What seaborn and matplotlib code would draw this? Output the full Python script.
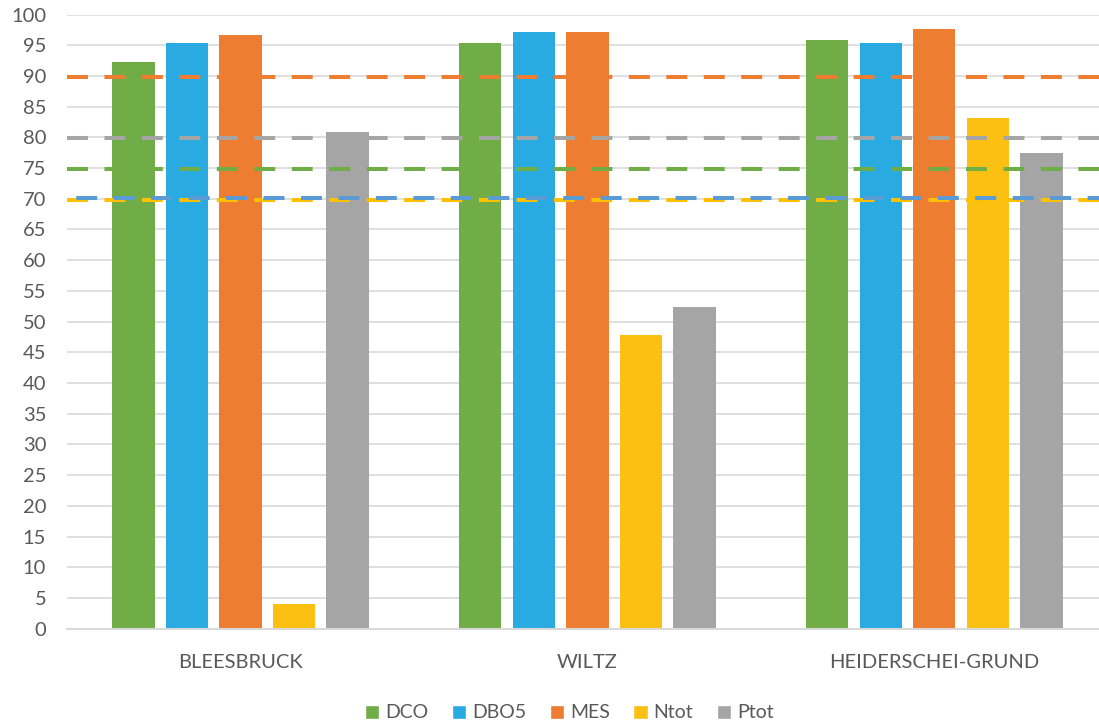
import matplotlib
matplotlib.use("Agg")
import matplotlib.pyplot as plt
import pandas as pd
import seaborn as sns
from matplotlib.patches import Patch

# Data
stations = ["BLEESBRUCK", "WILTZ", "HEIDERSCHEI-GRUND"]
params = ["DCO", "DBO5", "MES", "Ntot", "Ptot"]
dco = [92.2, 95.3, 95.9]
dbo5 = [95.3, 97.1, 95.3]
mes = [96.7, 97.1, 97.6]
ntot = [4.1, 47.9, 83.1]
ptot = [80.8, 52.4, 77.5]
# required removal rates (dashed lines)
thr_params = ["Ntot", "DBO5", "DCO", "Ptot", "MES"]
thr_values = [70, 70, 75, 80, 90]

bar_colors = ["#70AD47", "#29ABE2", "#ED7D31", "#FCC012", "#A5A5A5"]
line_colors = {"DCO": "#70AD47", "DBO5": "#5B9BD5", "MES": "#ED7D31",
               "Ntot": "#FFC000", "Ptot": "#A5A5A5"}

rows = []
for p, vals in zip(params, [dco, dbo5, mes, ntot, ptot]):
    for s, v in zip(stations, vals):
        rows.append({"station": s, "param": p, "value": v})
df = pd.DataFrame(rows)

sns.set_style("white")
plt.rcParams["font.family"] = ["Lato", "DejaVu Sans"]
txt = "#595959"

fig = plt.figure(figsize=(10.99, 7.26), dpi=100)
# plot area runs a little past the right edge, like the original
ax = fig.add_axes([0.061, 0.134, 0.947, 0.846])

sns.barplot(data=df, x="station", y="value", hue="param", order=stations,
            hue_order=params, palette=bar_colors, width=0.772, gap=0.21,
            linewidth=0, saturation=1, legend=False, err_kws={"linewidth": 0},
            ax=ax, zorder=2)

# threshold lines drawn over the bars
for p, v in zip(thr_params, thr_values):
    y = v + 0.2 if p == "DBO5" else v - 0.15
    off = 7 if p == "DBO5" else 0
    ax.axhline(y, color=line_colors[p], lw=2.9,
               linestyle=(off, (5.2, 4.1)), dash_capstyle="butt", zorder=3)

ax.set_ylim(0, 100)
ax.set_xlim(-0.5, 2.5)
ax.set_yticks(range(0, 101, 5))
ax.yaxis.grid(True, color="#D9D9D9", lw=1.2, zorder=0)
ax.set_axisbelow(True)
for s in ["top", "right", "left"]:
    ax.spines[s].set_visible(False)
ax.spines["bottom"].set_color("#D9D9D9")
ax.spines["bottom"].set_linewidth(1.5)
ax.tick_params(axis="y", length=0, pad=15, labelsize=14.5, labelcolor=txt)
ax.tick_params(axis="x", length=0, pad=18, labelsize=14.5, labelcolor=txt)
ax.set_xlabel("")
ax.set_ylabel("")

handles = [Patch(facecolor=c, label=p) for p, c in zip(params, bar_colors)]
leg = fig.legend(handles=handles, loc="center", bbox_to_anchor=(0.518, 0.018),
                 ncol=5, frameon=False, fontsize=14, handlelength=0.75,
                 handleheight=0.75, handletextpad=0.3, columnspacing=1.2)
for t in leg.get_texts():
    t.set_color(txt)

fig.savefig("out.png", dpi=100)
